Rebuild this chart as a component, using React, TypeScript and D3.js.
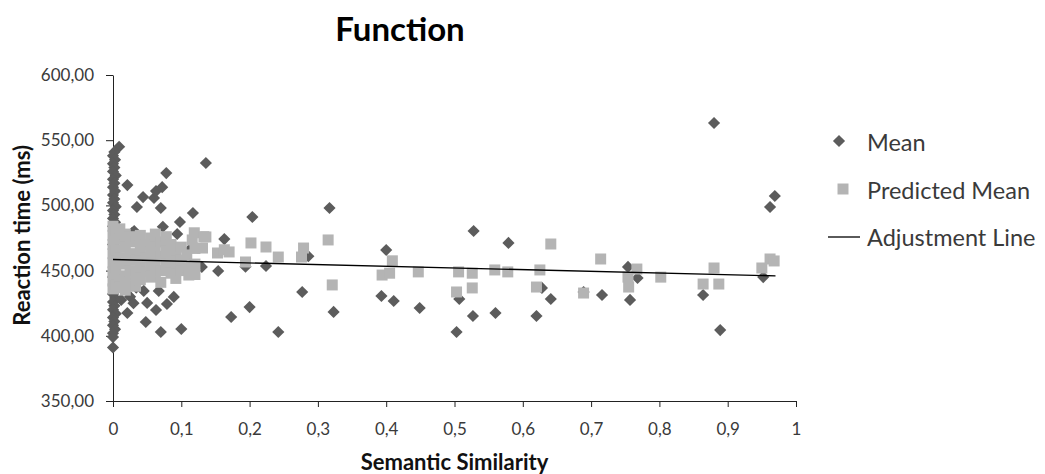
import React, { useEffect, useRef } from "react";
import * as d3 from "d3";

// Mean reaction times (diamonds): [semantic similarity, ms]
const meanPoints: [number, number][] = [
  [0.009, 545], [0.002, 541], [0, 538], [0.003, 535], [0, 532], [0.002, 529], [0, 526],
  [0.004, 523], [0, 520], [0.002, 517], [0, 514], [0.003, 511], [0, 508], [0.002, 505],
  [0, 502], [0.004, 499], [0, 496], [0.002, 493], [0, 490], [0.003, 487], [0, 484],
  [0, 470], [0.003, 455], [0, 445],
  [0, 432], [0.003, 429], [0, 426], [0.002, 423], [0, 420], [0.004, 417], [0, 414],
  [0.002, 411], [0, 408], [0.003, 405], [0, 402], [0, 399], [0, 391],
  [0.012, 427.5], [0.018, 436], [0.025, 430], [0.021, 417.5], [0.03, 425], [0.034, 437],
  [0.028, 479], [0.021, 515.6], [0.031, 480.4], [0.035, 498.8], [0.044, 506.4],
  [0.045, 434.4], [0.048, 410.6], [0.05, 425.2], [0.06, 505.7], [0.063, 511], [0.063, 419.8],
  [0.067, 434.4], [0.07, 498], [0.07, 402.9], [0.072, 514], [0.073, 483.6], [0.078, 524.8],
  [0.079, 424.4], [0.089, 429.8], [0.094, 478.1], [0.098, 487.3], [0.1, 405.2],
  [0.114, 467], [0.117, 494.2], [0.13, 452.8], [0.136, 532.5], [0.154, 449.7], [0.163, 474.2],
  [0.173, 414.4], [0.194, 453], [0.2, 422], [0.204, 491.1], [0.224, 453.5], [0.242, 402.9],
  [0.277, 433.6], [0.286, 461], [0.317, 498], [0.323, 418.3], [0.393, 430.5], [0.4, 465.8],
  [0.411, 426.7], [0.449, 421.3], [0.503, 402.9], [0.507, 428.2], [0.527, 415.2],
  [0.528, 480.4], [0.56, 417.5], [0.579, 471.2], [0.62, 415.2], [0.628, 436.7],
  [0.641, 428.2], [0.689, 433.6], [0.716, 431.3], [0.754, 452.8], [0.757, 427.5],
  [0.768, 444.3], [0.864, 431.3], [0.88, 563.2], [0.889, 404.4], [0.952, 445],
  [0.962, 498.8], [0.969, 507.2]
];

// Predicted means (squares)
const predictedPoints: [number, number][] = [
  [0, 484], [0, 477], [0, 470], [0, 463], [0, 456], [0, 449], [0, 442], [0, 436],
  [0.004, 480], [0.004, 466], [0.004, 452], [0.004, 439],
  [0.01, 482], [0.01, 474], [0.01, 460], [0.01, 446], [0.01, 437],
  [0.018, 478], [0.018, 468], [0.018, 455], [0.018, 443], [0.018, 435],
  [0.025, 476], [0.025, 463], [0.025, 450], [0.025, 440],
  [0.033, 472], [0.033, 458], [0.033, 447], [0.033, 438],
  [0.04, 477], [0.04, 466], [0.04, 453], [0.04, 443],
  [0.048, 470], [0.048, 460], [0.048, 449],
  [0.055, 475], [0.055, 464], [0.055, 454], [0.055, 445],
  [0.062, 478], [0.062, 468], [0.062, 457], [0.062, 447],
  [0.07, 472], [0.07, 461], [0.07, 450], [0.07, 441],
  [0.078, 476], [0.078, 465], [0.078, 455],
  [0.085, 470], [0.085, 459], [0.085, 448],
  [0.092, 466], [0.092, 456], [0.092, 444],
  [0.1, 468], [0.1, 458], [0.1, 450],
  [0.108, 462], [0.108, 453], [0.111, 446.6],
  [0.116, 473.5], [0.119, 479], [0.12, 467], [0.12, 455], [0.12, 447],
  [0.131, 467.3], [0.133, 476], [0.136, 475.8], [0.153, 463.5], [0.163, 466], [0.17, 464.3],
  [0.194, 456.6], [0.202, 471.2], [0.224, 468.1], [0.242, 460.4], [0.276, 460.4],
  [0.279, 467.3], [0.315, 473.5], [0.321, 439], [0.394, 446.6], [0.405, 448], [0.409, 457.5],
  [0.447, 449], [0.503, 433.6], [0.506, 449], [0.526, 448], [0.526, 436.7], [0.559, 450.5],
  [0.578, 449], [0.62, 437.4], [0.625, 450.5], [0.641, 470.4], [0.689, 432.8], [0.714, 458.9],
  [0.754, 445], [0.755, 437.4], [0.767, 451.2], [0.802, 445], [0.864, 439.7], [0.88, 452],
  [0.887, 439.7], [0.95, 452], [0.962, 458.9], [0.968, 457.4]
];

// Linear fit
const adjustmentLine: [number, number][] = [[0, 458.5], [0.97, 446]];

const xTicks = [0, 0.1, 0.2, 0.3, 0.4, 0.5, 0.6, 0.7, 0.8, 0.9, 1];
const yTicks = [350, 400, 450, 500, 550, 600];
const legendLabels = ["Mean", "Predicted Mean", "Adjustment Line"];

const FONT = "Lato, 'Open Sans', sans-serif";
const TEXT = "#3a3a3a";
const DARK = "#5c5c5c";
const LIGHT = "#b4b4b4";

const width = 1045;
const height = 474;
const margin = { top: 75, left: 113 };
const plotW = 683;
const plotH = 326;

const fmtX = (v: number) => String(v).replace(".", ",");
const fmtY = (v: number) => v.toFixed(2).replace(".", ",");

const renderChart = (svg: d3.Selection<SVGSVGElement, unknown, null, undefined>) => {
  svg.selectAll("*").remove();

  const x = d3.scaleLinear().domain([0, 1]).range([0, plotW]);
  const y = d3.scaleLinear().domain([350, 600]).range([plotH, 0]);

  const diamond = d3.symbol(d3.symbolSquare, 74)();
  const square = d3.symbol(d3.symbolSquare, 121)();

  // title
  svg.append("text")
    .attr("x", 400)
    .attr("y", 41)
    .attr("text-anchor", "middle")
    .attr("font-family", FONT)
    .attr("font-weight", "bold")
    .attr("font-size", 33)
    .attr("fill", "#000")
    .text("Function");

  const g = svg.append("g")
    .attr("transform", `translate(${margin.left}, ${margin.top})`);

  // axes
  const yAxisG = g.append("g")
    .call(d3.axisLeft(y).tickValues(yTicks).tickFormat(d => fmtY(+d)).tickSize(7).tickSizeOuter(0).tickPadding(12));
  const xAxisG = g.append("g")
    .attr("transform", `translate(0, ${plotH})`)
    .call(d3.axisBottom(x).tickValues(xTicks).tickFormat(d => fmtX(+d)).tickSize(6).tickSizeOuter(0).tickPadding(16));

  [yAxisG, xAxisG].forEach(a => {
    a.selectAll("path, line").attr("stroke", "#222");
    a.selectAll("text")
      .attr("font-family", FONT)
      .attr("font-size", 17)
      .attr("fill", TEXT);
  });

  // axis labels
  g.append("text")
    .attr("x", plotW / 2)
    .attr("y", plotH + 69)
    .attr("text-anchor", "middle")
    .attr("font-family", FONT)
    .attr("font-weight", "bold")
    .attr("font-size", 22)
    .attr("fill", "#111")
    .text("Semantic Similarity");

  g.append("text")
    .attr("transform", "rotate(-90)")
    .attr("x", -(y(477)))
    .attr("y", -margin.left + 30)
    .attr("text-anchor", "middle")
    .attr("font-family", FONT)
    .attr("font-weight", "bold")
    .attr("font-size", 22)
    .attr("fill", "#111")
    .text("Reaction time (ms)");

  // points
  g.append("g").selectAll("path")
    .data(meanPoints)
    .enter().append("path")
    .attr("d", diamond)
    .attr("transform", d => `translate(${x(d[0])}, ${y(d[1])}) rotate(45)`)
    .attr("fill", DARK);

  g.append("g").selectAll("path")
    .data(predictedPoints)
    .enter().append("path")
    .attr("d", square)
    .attr("transform", d => `translate(${x(d[0])}, ${y(d[1])})`)
    .attr("fill", LIGHT);

  const line = d3.line<[number, number]>().x(d => x(d[0])).y(d => y(d[1]));
  g.append("path")
    .datum(adjustmentLine)
    .attr("d", line)
    .attr("fill", "none")
    .attr("stroke", "#000")
    .attr("stroke-width", 1.3);

  // legend
  const legend = svg.append("g").attr("transform", "translate(844, 0)");
  const rows = [143, 191, 238];
  legendLabels.forEach((label, i) => {
    const row = legend.append("g").attr("transform", `translate(0, ${rows[i]})`);
    if (i === 0) {
      row.append("path").attr("d", diamond).attr("transform", "translate(-5, -2) rotate(45)").attr("fill", DARK);
    } else if (i === 1) {
      row.append("path").attr("d", square).attr("transform", "translate(-1, -2)").attr("fill", LIGHT);
    } else {
      row.append("line").attr("x1", -16).attr("x2", 16).attr("y1", -1).attr("y2", -1)
        .attr("stroke", "#000").attr("stroke-width", 1.3);
    }
    row.append("text")
      .attr("x", 23)
      .attr("y", 8)
      .attr("font-family", FONT)
      .attr("font-size", 23.5)
      .attr("fill", TEXT)
      .text(label);
  });
};

const App = () => {
  const svgRef = useRef<SVGSVGElement>(null);

  useEffect(() => {
    if (svgRef.current) {
      d3.select(svgRef.current).call(renderChart);
    }
  });

  return (
    <svg ref={svgRef} width={width} height={height}
         style={{ position: "absolute", left: 0, top: 0, background: "#fff" }} />
  );
};

export default App;
